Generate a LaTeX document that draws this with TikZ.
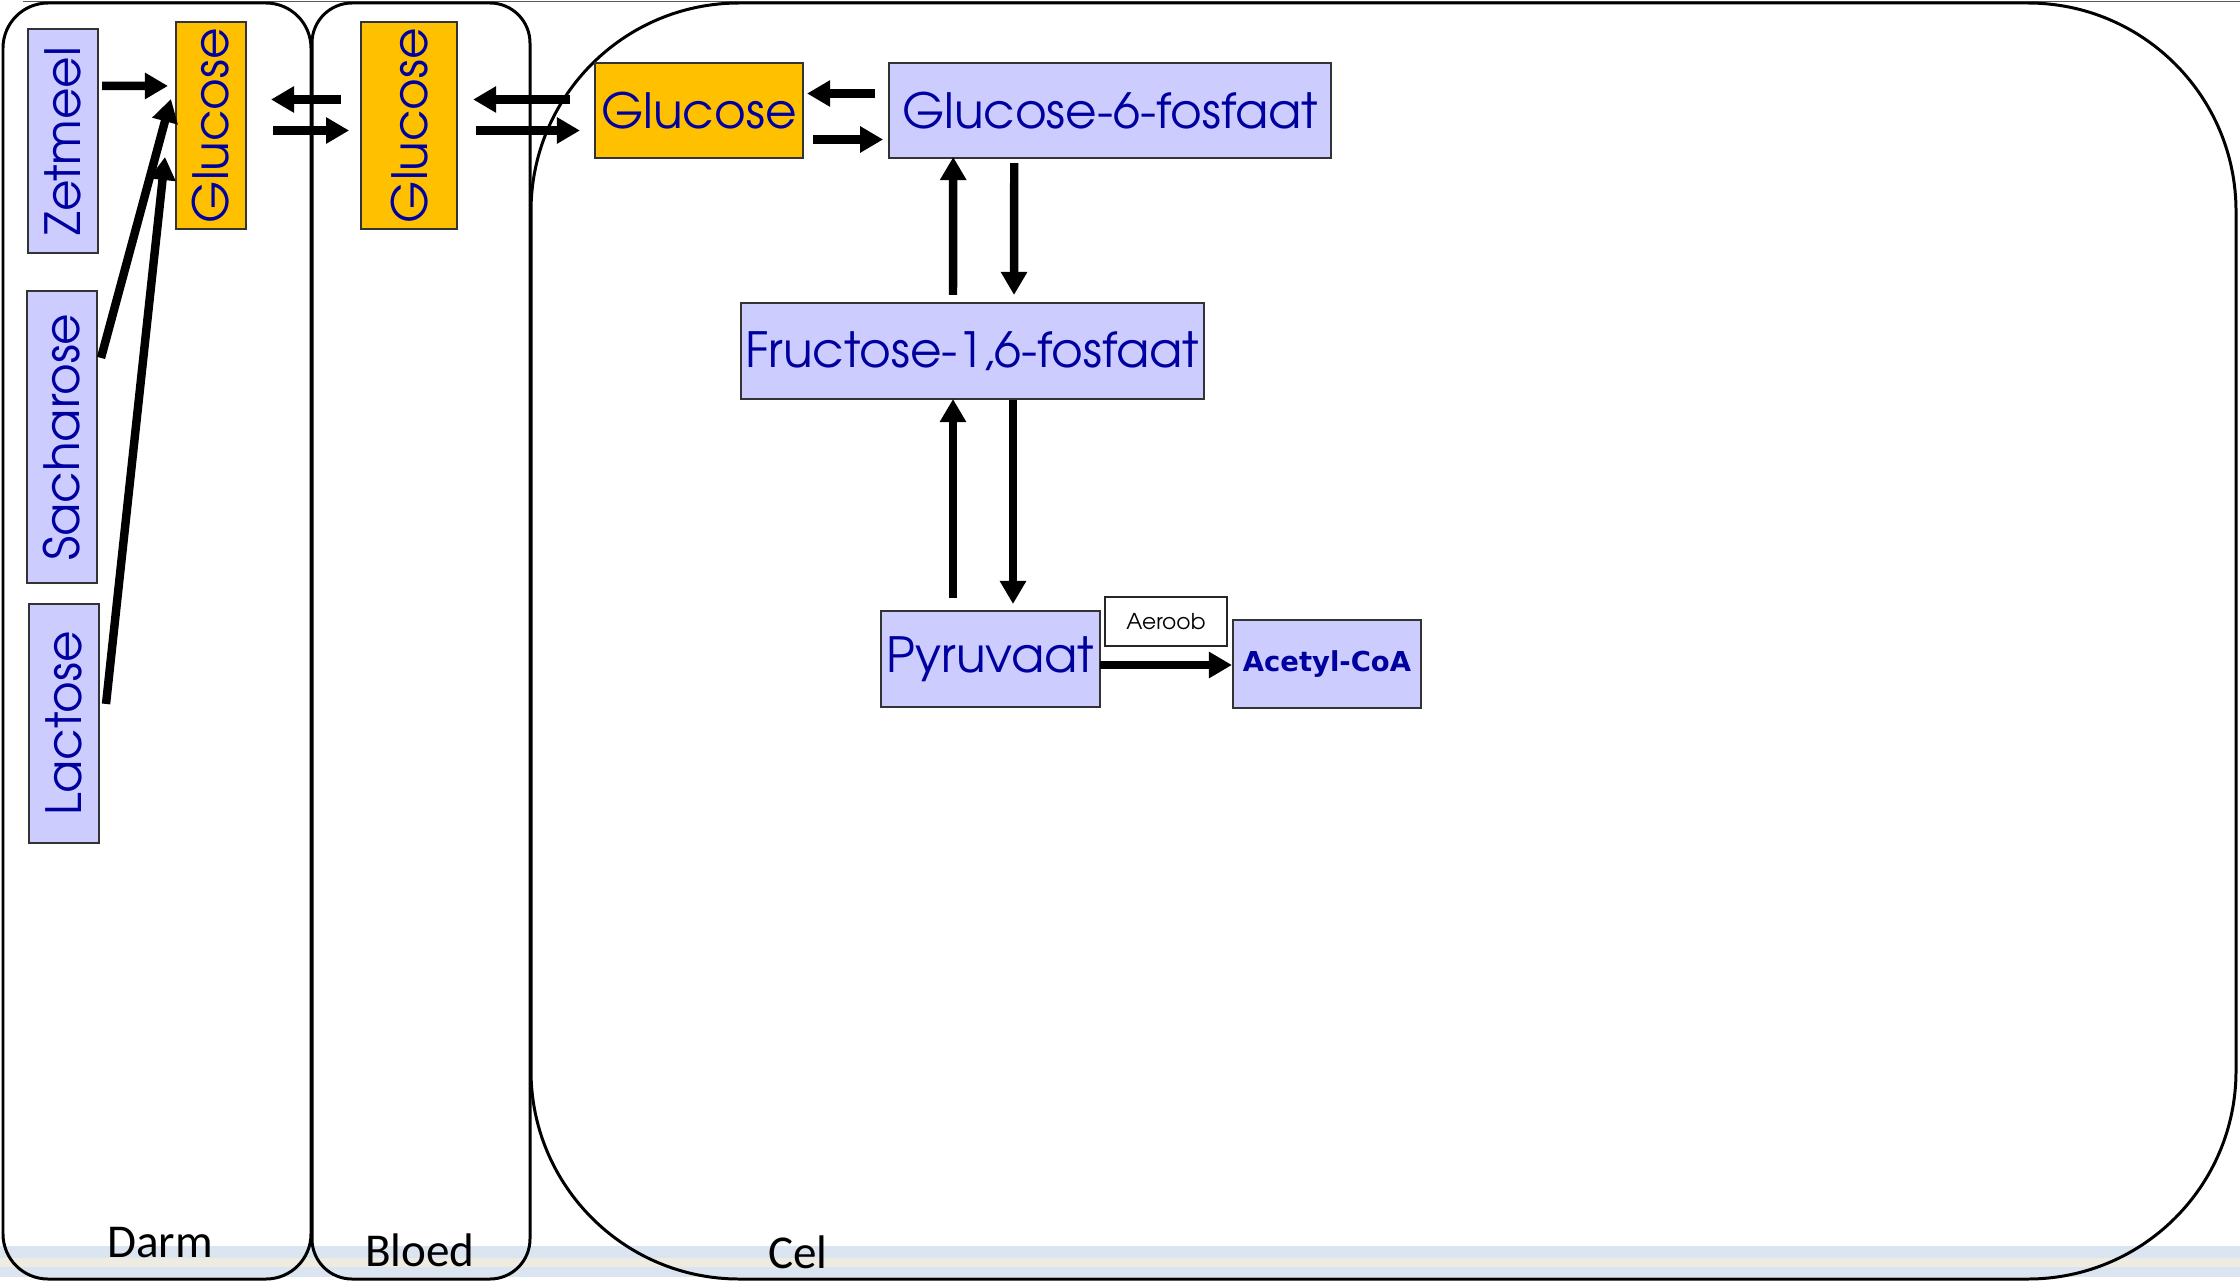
\documentclass[tikz,border=0pt]{standalone}
\usepackage{fontspec}
\usepackage{graphicx}
\setmainfont{Carlito}
\newfontfamily\gothic{TeX Gyre Adventor}
\newfontfamily\verd{DejaVu Sans}
\usepackage{tikz}
\usetikzlibrary{arrows.meta,positioning}
\definecolor{lila}{HTML}{CCCCFF}
\definecolor{oranje}{HTML}{FFC000}
\definecolor{navy}{HTML}{0000A0}
\definecolor{bandblauw}{HTML}{DBE5F1}
\definecolor{bandbeige}{HTML}{EEECE1}
\tikzset{
  stof/.style={rectangle, draw=black!80, line width=0.6pt, fill=lila,
               text=navy, font=\gothic\fontsize{13.8}{16}\selectfont,
               inner sep=0pt, outer sep=0pt, align=center},
  gluc/.style={stof, fill=oranje},
  aerbox/.style={rectangle, draw=black!85, line width=0.6pt, fill=white,
                 font=\gothic\fontsize{6.2}{8}\selectfont, inner sep=0pt},
  compart/.style={draw=black, line width=0.85pt},
  complbl/.style={font=\fontsize{13.4}{15}\selectfont},
  arrow/.style={-{Triangle[length=0.23cm, width=0.25cm]}, line width=2.4pt}
}

\begin{document}
\begin{tikzpicture}[x=0.01cm, y=-0.01cm]
  \useasboundingbox (0,0) rectangle (2240,1282);
  \fill[bandblauw] (0,1246) rectangle (2240,1258);
  \fill[bandbeige] (0,1258) rectangle (2240,1267);
  \fill[bandblauw] (0,1267) rectangle (2240,1277);
  \draw[black!65, line width=0.3pt] (23,1.5) -- (2240,1.5);
  \draw[compart, rounded corners=0.45cm] (3,3) rectangle (311,1279);
  \draw[compart, rounded corners=0.4cm] (312,3) rectangle (530,1279);
  \draw[compart, rounded corners=2.08cm] (531,3) rectangle (2236,1279);
  \node[complbl] (darm) at (160,1243) {Darm};
  \node[complbl] (bloed) at (420,1250) {Bloed};
  \node[complbl] (cel) at (798,1252) {Cel};

  \node[stof, minimum width=0.70cm, minimum height=2.24cm] (zetmeel) at (63,141) {\rotatebox{90}{Zetmeel}};
  \node[stof, minimum width=0.70cm, minimum height=2.92cm] (sacharose) at (62,437) {\rotatebox{90}{Sacharose}};
  \node[stof, minimum width=0.70cm, minimum height=2.39cm] (lactose) at (64,723.5) {\rotatebox{90}{Lactose}};
  \node[gluc, minimum width=0.70cm, minimum height=2.07cm] (gdarm) at (211,125.5) {\rotatebox{90}{Glucose}};
  \node[gluc, minimum width=0.96cm, minimum height=2.07cm, right=1.15cm of gdarm] (gbloed) {\rotatebox{90}{Glucose}};
  \node[gluc, minimum width=2.08cm, minimum height=0.95cm] (gcel) at (699,110.5) {Glucose};
  \node[stof, minimum width=4.42cm, minimum height=0.95cm, right=0.86cm of gcel] (g6p) {Glucose-6-fosfaat};
  \node[stof, minimum width=4.63cm, minimum height=0.96cm] (fructose) at (972.5,351) {Fructose-1,6-fosfaat};
  \node[stof, minimum width=2.19cm, minimum height=0.96cm] (pyruvaat) at (990.5,659) {Pyruvaat};
  \node[aerbox, minimum width=1.22cm, minimum height=0.49cm] (aeroob) at (1166,621.5) {Aeroob};
  \node[stof, minimum width=1.88cm, minimum height=0.88cm,
        font=\verd\bfseries\fontsize{7.8}{9}\selectfont] (acetyl) at (1327,664) {Acetyl-CoA};

  \draw[arrow] ([shift={(4,57)}]zetmeel.north east) -- ([shift={(-8,64)}]gdarm.north west);
  \draw[arrow] ([shift={(4,67)}]sacharose.north east) -- ([shift={(-5,77)}]gdarm.north west);
  \draw[arrow] ([shift={(7,100)}]lactose.north east) -- ([shift={(-11,135)}]gdarm.north west);
  \draw[arrow] ([shift={(-20,-26)}]gbloed.west) -- ([shift={(25,-26)}]gdarm.east);
  \draw[arrow] ([shift={(27,5)}]gdarm.east) -- ([shift={(-12,5)}]gbloed.west);
  \draw[arrow] ([shift={(-25,-11)}]gcel.west) -- ([shift={(16,-26)}]gbloed.east);
  \draw[arrow] ([shift={(19,5)}]gbloed.east) -- ([shift={(-15,20)}]gcel.west);
  \draw[arrow] ([shift={(-14,-17)}]g6p.west) -- ([shift={(4,-17)}]gcel.east);
  \draw[arrow] ([shift={(10,29)}]gcel.east) -- ([shift={(-6,29)}]g6p.west);
  \draw[arrow] ([shift={(-19.5,-8)}]fructose.north) -- ([shift={(-157,-1)}]g6p.south);
  \draw[arrow] ([shift={(-96,5)}]g6p.south) -- ([shift={(41.5,-8)}]fructose.north);
  \draw[arrow] ([shift={(-37.5,-13)}]pyruvaat.north) -- ([shift={(-19.5,0)}]fructose.south);
  \draw[arrow] ([shift={(40.5,1)}]fructose.south) -- ([shift={(22.5,-7)}]pyruvaat.north);
  \draw[arrow] ([shift={(0,6)}]pyruvaat.east) -- ([shift={(-1,1)}]acetyl.west);
\end{tikzpicture}
\end{document}
